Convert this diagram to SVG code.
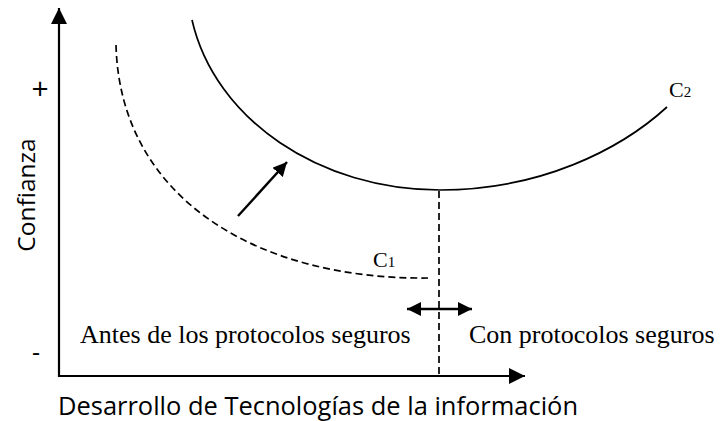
<svg xmlns="http://www.w3.org/2000/svg" width="723" height="421" viewBox="0 0 723 421">
<style>
.sans{font-family:"Open Sans","Noto Sans",sans-serif;fill:#000}
.serif{font-family:"Liberation Serif","Times New Roman",serif;fill:#000}
.ln{fill:none;stroke:#000;stroke-width:1.7}
.dash{fill:none;stroke:#000;stroke-width:1.7;stroke-dasharray:7 4}
</style>
<defs>
<marker id="ah" viewBox="0 0 14 14" refX="14" refY="7" markerWidth="14" markerHeight="14" markerUnits="userSpaceOnUse" orient="auto-start-reverse"><path d="M0,0 L14,7 L0,14 Z" fill="#000"/></marker>
<marker id="axh" viewBox="0 0 16 16" refX="16" refY="8" markerWidth="16" markerHeight="16" markerUnits="userSpaceOnUse" orient="auto"><path d="M0,0 L16,8 L0,16 Z" fill="#000"/></marker>
</defs>
<rect width="723" height="421" fill="#fff"/>
<g id="axes">
<line x1="59" y1="377" x2="59" y2="8" stroke="#000" stroke-width="2.2" marker-end="url(#axh)"/>
<line x1="58" y1="376" x2="525" y2="376" stroke="#000" stroke-width="2.2" marker-end="url(#axh)"/>
</g>
<g id="labels">
<text class="sans" x="25" y="195" font-size="24.5" text-anchor="middle" transform="rotate(-90 25 195)" dominant-baseline="central">Confianza</text>
<text class="sans" x="40" y="99" font-size="30" text-anchor="middle">+</text>
<text class="sans" x="36" y="361" font-size="25" text-anchor="middle">-</text>
<text class="sans" x="58" y="415" font-size="25.5" textLength="520" lengthAdjust="spacingAndGlyphs">Desarrollo de Tecnologías de la información</text>
<text class="serif" x="80" y="343" font-size="26">Antes de los protocolos seguros</text>
<text class="serif" x="469" y="343" font-size="26">Con protocolos seguros</text>
</g>
<g id="c1">
<path class="dash" d="M116,45 C120,200 260,280 428,278"/>
<text class="serif" x="373" y="267" font-size="22">C<tspan font-size="15">1</tspan></text>
</g>
<g id="c2">
<path class="ln" d="M192,20 C215,120 320,190 440,190 C540,190 620,150 667,107"/>
<text class="serif" x="669" y="97" font-size="22">C<tspan font-size="15">2</tspan></text>
</g>
<g id="connectors">
<line class="dash" x1="439" y1="191" x2="439" y2="376"/>
<line x1="238" y1="216" x2="287" y2="162" stroke="#000" stroke-width="2.4" marker-end="url(#ah)"/>
<line x1="407" y1="309" x2="472" y2="309" stroke="#000" stroke-width="2.6" marker-start="url(#ah)" marker-end="url(#ah)"/>
</g>
</svg>
